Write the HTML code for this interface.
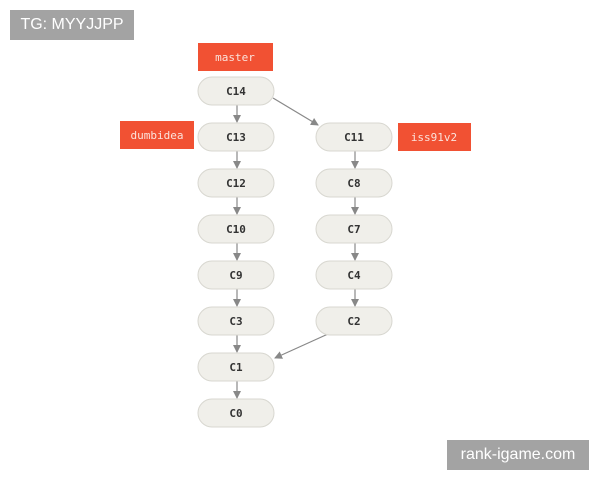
<!DOCTYPE html>
<html><head><style>
body{margin:0;width:600px;height:480px;background:#fff;position:relative;overflow:hidden}
.b{position:absolute;background:#a3a3a3;color:#fff;font:16px "Liberation Sans",sans-serif;line-height:30px;text-align:center}
</style></head><body>
<div class="b" style="left:10px;top:10px;width:124px;height:30px">TG: MYYJJPP</div>
<div class="b" style="left:447px;top:440px;width:142px;height:30px">rank-igame.com</div>
<svg width="600" height="480" style="position:absolute;left:0;top:0" font-family="DejaVu Sans Mono, Liberation Mono, monospace" font-size="11">
<defs><marker id="a" markerWidth="8" markerHeight="8" refX="7" refY="4" orient="auto" markerUnits="userSpaceOnUse"><path d="M0,0L8,4L0,8z" fill="#888"/></marker></defs>
<g stroke="#888" stroke-width="1.2" marker-end="url(#a)">
<line x1="237" y1="105" x2="237" y2="122"/><line x1="237" y1="151" x2="237" y2="168"/><line x1="237" y1="197" x2="237" y2="214"/><line x1="237" y1="243" x2="237" y2="260"/><line x1="237" y1="289" x2="237" y2="306"/><line x1="237" y1="335" x2="237" y2="352"/><line x1="237" y1="381" x2="237" y2="398"/>
<line x1="355" y1="151" x2="355" y2="168"/><line x1="355" y1="197" x2="355" y2="214"/><line x1="355" y1="243" x2="355" y2="260"/><line x1="355" y1="289" x2="355" y2="306"/>
<line x1="273" y1="98" x2="318" y2="125"/><line x1="328" y1="334" x2="275" y2="358"/>
</g>
<g fill="#f0efea" stroke="#d8d7d0">
<rect x="198" y="77" width="76" height="28" rx="14"/><rect x="198" y="123" width="76" height="28" rx="14"/><rect x="198" y="169" width="76" height="28" rx="14"/><rect x="198" y="215" width="76" height="28" rx="14"/><rect x="198" y="261" width="76" height="28" rx="14"/><rect x="198" y="307" width="76" height="28" rx="14"/><rect x="198" y="353" width="76" height="28" rx="14"/><rect x="198" y="399" width="76" height="28" rx="14"/>
<rect x="316" y="123" width="76" height="28" rx="14"/><rect x="316" y="169" width="76" height="28" rx="14"/><rect x="316" y="215" width="76" height="28" rx="14"/><rect x="316" y="261" width="76" height="28" rx="14"/><rect x="316" y="307" width="76" height="28" rx="14"/>
</g>
<g fill="#333" text-anchor="middle" font-weight="bold">
<text x="236" y="95">C14</text><text x="236" y="141">C13</text><text x="236" y="187">C12</text><text x="236" y="233">C10</text><text x="236" y="279">C9</text><text x="236" y="325">C3</text><text x="236" y="371">C1</text><text x="236" y="417">C0</text>
<text x="354" y="141">C11</text><text x="354" y="187">C8</text><text x="354" y="233">C7</text><text x="354" y="279">C4</text><text x="354" y="325">C2</text>
</g>
<g fill="#f15133"><rect x="198" y="43" width="75" height="28"/><rect x="120" y="121" width="74" height="28"/><rect x="398" y="123" width="73" height="28"/></g>
<g fill="#fbe3dc" text-anchor="middle"><text x="235" y="61">master</text><text x="157" y="139">dumbidea</text><text x="434" y="141">iss91v2</text></g>
</svg>
</body></html>
